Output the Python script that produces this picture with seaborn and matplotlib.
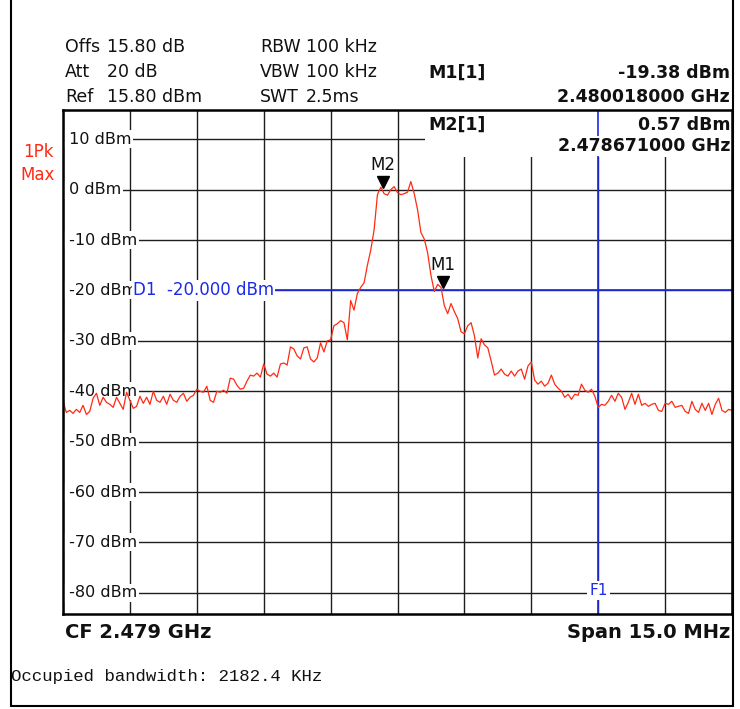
import numpy as np
import pandas as pd
import matplotlib
matplotlib.use("Agg")
import matplotlib.pyplot as plt
import matplotlib.transforms as mtransforms
from matplotlib.patches import Rectangle
from matplotlib.lines import Line2D
import seaborn as sns

# sweep settings (GHz)
sweep_start = 2.4715
sweep_stop = 2.4865
sweep_points = 201

# trace levels (dBm)
levels = [
    -42.0, -44.2, -43.8, -44.4, -43.6, -44.2, -42.8, -44.6, -44.0, -41.4,
    -40.4, -42.8, -41.2, -42.2, -42.6, -43.2, -41.2, -42.4, -43.6, -40.2,
    -41.8, -43.4, -43.0, -41.0, -42.4, -41.2, -42.6, -40.0, -41.8, -42.2,
    -41.0, -42.6, -40.6, -41.8, -42.2, -41.0, -40.4, -42.0, -41.2, -40.8,
    -39.6, -40.0, -40.2, -39.0, -41.8, -42.2, -40.0, -40.2, -39.8, -40.4,
    -37.4, -37.6, -38.8, -39.6, -39.4, -38.0, -36.8, -37.0, -36.4, -37.2,
    -34.6, -36.6, -37.0, -36.4, -37.2, -34.6, -34.4, -34.8, -31.2, -31.6,
    -33.0, -33.6, -31.4, -31.2, -33.6, -34.2, -33.4, -30.4, -32.2, -30.0,
    -29.8, -27.0, -26.6, -26.0, -26.4, -29.8, -22.0, -23.9, -20.6, -19.4,
    -18.5, -15.0, -12.0, -8.0, -1.0, 0.5, -0.8, -1.1, 0.0, 0.6,
    -0.6, -1.0, -0.8, -0.5, 1.6, -0.8, -4.0, -8.5, -9.8, -12.5,
    -17.0, -20.2, -18.8, -19.4, -23.0, -24.6, -22.6, -24.2, -25.6, -28.2,
    -28.6, -27.0, -26.4, -29.0, -33.4, -29.6, -30.8, -31.4, -34.0, -36.8,
    -36.4, -35.6, -36.6, -37.0, -36.0, -37.0, -36.0, -35.6, -37.6, -35.0,
    -34.2, -37.8, -38.6, -38.0, -39.0, -38.4, -36.8, -38.6, -39.4, -40.0,
    -41.2, -40.6, -41.6, -40.6, -40.8, -38.6, -39.8, -40.2, -39.6, -41.0,
    -43.2, -42.6, -42.8, -42.0, -40.8, -42.0, -40.4, -41.2, -43.6, -42.2,
    -40.4, -42.6, -40.6, -42.8, -42.4, -43.0, -42.6, -42.4, -43.8, -44.0,
    -42.4, -42.6, -42.0, -43.2, -43.0, -42.8, -44.0, -44.4, -42.0, -43.6,
    -44.2, -42.4, -43.8, -42.4, -44.6, -42.6, -41.4, -43.8, -44.2, -43.6,
    -43.8,
]

ref_level = 15.8
y_grid = [10, 0, -10, -20, -30, -40, -50, -60, -70, -80]
y_labels = ["10 dBm", "0 dBm", "-10 dBm", "-20 dBm", "-30 dBm", "-40 dBm",
            "-50 dBm", "-60 dBm", "-70 dBm", "-80 dBm"]

marker_names = ["M1", "M2"]
marker_freq = [2.480018, 2.478671]
marker_level = [-19.38, 0.57]

d1_level = -20.0
f1_freq = 2.4835

RED = "#ff2a14"
BLUE = "#1c2be8"

freqs = np.linspace(sweep_start, sweep_stop, sweep_points)
df = pd.DataFrame({"freq": freqs, "level": levels})

sns.set_style("white")
plt.rcParams["font.family"] = ["DejaVu Sans"]

W, H = 740, 709
fig = plt.figure(figsize=(W / 100, H / 100), dpi=100)


def px(x, y):
    return x / W, 1 - y / H


ax = fig.add_axes([63 / W, 1 - 614 / H, (732 - 63) / W, (614 - 110) / H])
ax.set_xlim(sweep_start, sweep_stop)
ax.set_ylim(ref_level - 100, ref_level)

# grid
ax.set_xticks(np.linspace(sweep_start, sweep_stop, 11))
ax.set_yticks(y_grid)
ax.tick_params(length=0, labelbottom=False, labelleft=False)
ax.set_axisbelow(True)
ax.grid(True, color="#1e1e1e", lw=1.0)
for s in ax.spines.values():
    s.set_color("black")
    s.set_linewidth(1.8)
    s.set_zorder(6)

# white panel behind marker table
ax.add_patch(Rectangle((0.541, 0.9067), 0.459, 0.0933, transform=ax.transAxes,
                       facecolor="white", edgecolor="none", zorder=1.5))

# display line D1 and frequency line F1
ax.axhline(d1_level, color=BLUE, lw=1.2, zorder=2)
ax.axvline(f1_freq, color=BLUE, lw=1.2, zorder=2)

# y labels inside the grid (leading space keeps the white box flush with the frame)
for v, lab in zip(y_grid, y_labels):
    ax.text(0.0015, v, " " + lab, transform=ax.get_yaxis_transform(), ha="left", va="center",
            fontsize=11.5, color="#111111", zorder=3,
            bbox=dict(facecolor="white", edgecolor="none", pad=1.0))

ax.text(0.1046, d1_level, "D1  -20.000 dBm", transform=ax.get_yaxis_transform(),
        ha="left", va="center", fontsize=12, color=BLUE, zorder=3.5,
        bbox=dict(facecolor="white", edgecolor="none", pad=0.8))
ax.text(f1_freq, -79.6, "F1", ha="center", va="center", fontsize=11, color=BLUE, zorder=3.5,
        bbox=dict(facecolor="white", edgecolor="none", pad=1.5))

# trace
sns.lineplot(data=df, x="freq", y="level", ax=ax, color=RED, lw=0.9,
             estimator=None, sort=False, zorder=4)
ax.set_xlabel("")
ax.set_ylabel("")

# markers
tri_tf = mtransforms.offset_copy(ax.transData, fig=fig, x=0, y=5, units="dots")
for name, f, lv in zip(marker_names, marker_freq, marker_level):
    ax.plot([f], [lv], marker="v", color="black", ms=9, transform=tri_tf, zorder=5, clip_on=False)
    ax.annotate(name, (f, lv), xytext=(0, 16), textcoords="offset points",
                ha="center", va="center", fontsize=12, color="#111111", zorder=5)

# header
hdr = dict(fontsize=12.5, color="#111111", va="center", ha="left")
rows = [(47, "Offs", "15.80 dB", "RBW", "100 kHz"),
        (72, "Att", "20 dB", "VBW", "100 kHz"),
        (97, "Ref", "15.80 dBm", "SWT", "2.5ms")]
for y, a, b, c, d in rows:
    fig.text(*px(65, y), a, **hdr)
    fig.text(*px(107, y), b, **hdr)
    fig.text(*px(260, y), c, **hdr)
    fig.text(*px(306, y), d, **hdr)

bold = dict(fontsize=12.5, fontweight="bold", color="#111111", va="center")
fig.text(*px(428, 73), "M1[1]", ha="left", **bold)
fig.text(*px(730, 73), "-19.38 dBm", ha="right", **bold)
fig.text(*px(730, 97), "2.480018000 GHz", ha="right", **bold)
fig.text(*px(428, 125), "M2[1]", ha="left", **bold)
fig.text(*px(730, 125), "0.57 dBm", ha="right", **bold)
fig.text(*px(730, 146), "2.478671000 GHz", ha="right",
         bbox=dict(facecolor="white", edgecolor="none", pad=1.0), **bold)

fig.text(*px(38, 152), "1Pk", ha="center", va="center", fontsize=12, color=RED)
fig.text(*px(38, 175), "Max", ha="center", va="center", fontsize=12, color=RED)

fig.text(*px(65, 632), "CF 2.479 GHz", ha="left", va="center", fontsize=14,
         fontweight="bold", color="#111111")
fig.text(*px(730, 632), "Span 15.0 MHz", ha="right", va="center", fontsize=14,
         fontweight="bold", color="#111111")
fig.text(*px(11, 676), "Occupied bandwidth: 2182.4 KHz", ha="left", va="center",
         fontsize=12.5, family=["Liberation Mono", "DejaVu Sans Mono"], color="#111111")

# outer frame
for xs, ys in [((10.5, 10.5), (0, 706)), ((733, 733), (0, 706)), ((10.5, 733), (706, 706))]:
    fig.add_artist(Line2D([x / W for x in xs], [1 - y / H for y in ys],
                          color="black", lw=1.5))

fig.savefig("out.png", dpi=100)
